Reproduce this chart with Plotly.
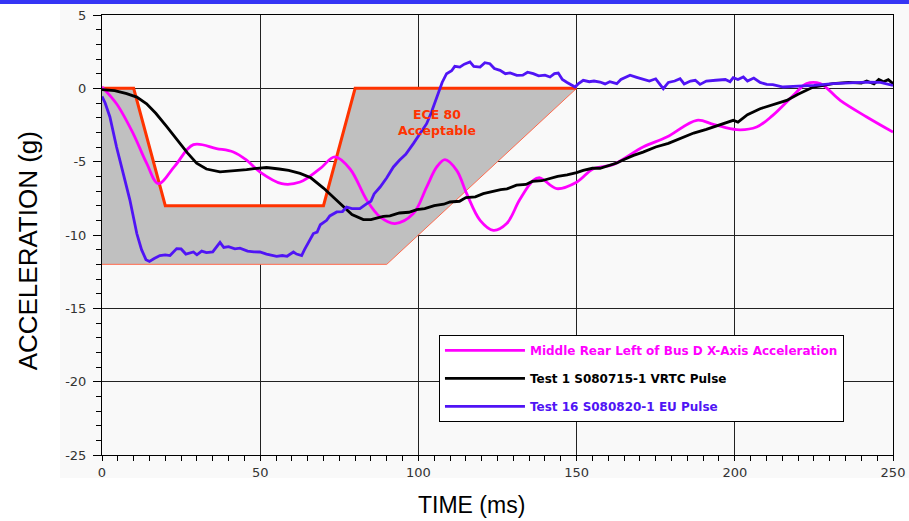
import plotly.graph_objects as go

# ---------------- data ----------------
corridor_upper_t = [0, 10, 20, 70, 80, 150]
corridor_upper_g = [0, 0, -8, -8, 0, 0]
corridor_lower_t = [0, 90, 150]
corridor_lower_g = [-12, -12, 0]

bus_t = [0, 4.6, 9.9, 14.1, 17.8, 23, 28.9, 36.2, 41.5, 45.7, 49.9, 56.8, 62.6, 68.9, 73.6,
         78.4, 83.7, 87.9, 92.6, 98.4, 102.6, 105.8, 108.4, 112.1, 115.3, 119.5, 123.7, 127.9,
         132, 136.3, 138.4, 143.7, 150, 155.3, 161.5, 171, 178.5, 188, 193.2, 200.6, 206.9,
         212, 218.5, 222.7, 227, 233.3, 241.7, 250]
bus_g = [0.1, -1.05, -3.1, -5.1, -6.5, -5.3, -3.84, -4.11, -4.34, -4.9, -5.7, -6.5, -6.39, -5.48, -4.68,
         -5.5, -7.63, -8.77, -9.22, -8.54, -6.73, -5.36, -4.86, -5.59, -7.2, -9.0, -9.68, -9.22,
         -7.6, -6.27, -6.1, -6.84, -6.4, -5.48, -5.2, -4.0, -3.32, -2.18, -2.45, -2.82, -2.64,
         -1.84, -0.48, 0.32, 0.32, -0.82, -1.95, -2.98]

vrtc_t = [0, 4, 7.8, 11, 14.1, 17, 20.4, 24.7, 27, 29.9, 33, 37.3, 41, 45.7, 49, 52, 56, 59, 62.6,
          66, 70, 73, 76.3, 79, 82.6, 85, 88.9, 91, 94, 97, 99.5, 102, 105, 108, 110, 113, 115,
          118, 120.5, 123, 126, 128, 131, 134, 136, 139, 141.6, 144, 147, 150, 152.1, 155, 157.4,
          160, 162.7, 165, 168, 171, 175, 179, 183.7, 187, 191, 195, 199.5, 201, 204, 208, 212,
          216.4, 220, 224.8, 228, 231, 236, 240, 241.7, 244, 245.5, 247, 248.5, 250]
vrtc_g = [-0.09, -0.15, -0.36, -0.6, -1.05, -1.7, -2.6, -3.77, -4.4, -5.1, -5.5, -5.7, -5.65, -5.55,
          -5.45, -5.4, -5.5, -5.6, -5.8, -6.1, -6.8, -7.4, -8.09, -8.6, -8.95, -8.95, -8.73, -8.7,
          -8.5, -8.45, -8.27, -8.2, -8.0, -7.9, -7.75, -7.7, -7.45, -7.4, -7.18, -7.05, -6.9, -6.85,
          -6.6, -6.55, -6.35, -6.3, -6.16, -6.0, -5.9, -5.75, -5.59, -5.45, -5.45, -5.25, -5.09,
          -4.85, -4.57, -4.35, -4.0, -3.75, -3.32, -3.05, -2.8, -2.5, -2.18, -2.3, -1.8, -1.39,
          -1.1, -0.82, -0.4, 0.09, 0.2, 0.32, 0.4, 0.35, 0.5, 0.3, 0.6, 0.45, 0.59, 0.32]

eu_t = [0, 1, 2.5, 4.6, 6.7, 8.8, 11, 12.5, 13.9, 15, 16.5, 18.3, 20, 21.5, 23.6, 25, 26.5, 28.9,
        30, 31.5, 33, 35, 37.3, 38.5, 40, 42, 43.6, 46, 48, 49.9, 52, 55.2, 57, 58.5, 60.5, 61.5,
        63.1, 64, 66.8, 68, 69, 71, 72, 74.2, 76, 77.3, 79, 81.5, 83.7, 85, 86, 87.9, 90, 92.1,
        94, 96, 98.4, 100.5, 102.6, 104, 105.8, 107.5, 108.9, 110.5, 111.5, 113.1, 114.5, 116.3,
        117.5, 119.5, 121, 122.6, 124, 125.8, 127.5, 129, 131.1, 133, 134.5, 136.3, 138, 140,
        141.6, 143, 144.2, 145.5, 147, 149.5, 150.5, 152.1, 154, 155.5, 157.4, 159, 160.5, 162.7,
        164, 166.9, 169, 171, 173, 175, 177.4, 179, 181, 182.7, 184, 186, 187.5, 189, 191, 194,
        197, 198.5, 199.5, 201, 202.7, 204, 206, 208, 210.1, 212, 215.3, 220, 225, 231.1, 236,
        241.7, 246, 250]
eu_g = [-0.55, -1.0, -1.95, -4.0, -5.8, -7.6, -9.9, -11.0, -11.68, -11.8, -11.6, -11.4, -11.35,
        -11.4, -10.93, -10.95, -11.3, -11.16, -11.35, -11.1, -11.2, -11.15, -10.5, -10.85, -10.8,
        -10.95, -10.9, -11.1, -11.15, -11.16, -11.3, -11.45, -11.4, -11.45, -11.16, -11.3, -11.4,
        -11.0, -9.9, -9.8, -9.3, -9.0, -8.7, -8.43, -8.4, -8.09, -8.2, -8.2, -7.86, -7.7, -7.2,
        -6.73, -6.1, -5.36, -4.9, -4.5, -3.77, -3.1, -2.41, -1.7, -0.59, 0.4, 1.0, 1.2, 1.5, 1.45,
        1.65, 1.8, 1.5, 1.45, 1.75, 1.68, 1.35, 1.23, 1.0, 1.05, 0.89, 0.9, 1.1, 1.0, 0.85, 0.9,
        0.77, 1.0, 1.04, 0.6, 0.4, 0.09, 0.3, 0.55, 0.45, 0.5, 0.43, 0.3, 0.45, 0.32, 0.6, 0.89,
        0.75, 0.6, 0.5, 0.65, -0.02, 0.4, 0.5, 0.66, 0.3, 0.5, 0.55, 0.27, 0.5, 0.55, 0.6, 0.45,
        0.73, 0.6, 0.77, 0.5, 0.7, 0.4, 0.27, 0.25, 0.09, 0.15, 0.2, 0.32, 0.35, 0.43, 0.4, 0.2]

series_names = ["Middle Rear Left of Bus D X-Axis Acceleration",
                "Test 1 S080715-1 VRTC Pulse",
                "Test 16 S080820-1 EU Pulse"]
series_colors = ["#FF00FF", "#000000", "#5014F5"]

x_ticks = [0, 50, 100, 150, 200, 250]
y_ticks = [5, 0, -5, -10, -15, -20, -25]
y_tick_labels = ["5", "0", "-5", "-10", "-15", "-20", "-25"]

FONT = "Liberation Sans, Arial, sans-serif"
WIDE = "DejaVu Sans, Verdana, sans-serif"

fig = go.Figure()

# corridor polygon (gray)
poly_t = corridor_upper_t + corridor_lower_t[::-1]
poly_g = corridor_upper_g + corridor_lower_g[::-1]
fig.add_trace(go.Scatter(x=poly_t, y=poly_g, fill="toself", fillcolor="#C0C0C0",
                         line=dict(width=0), mode="lines", showlegend=False, hoverinfo="skip"))
fig.add_trace(go.Scatter(x=corridor_lower_t, y=corridor_lower_g, mode="lines",
                         line=dict(color="#FF6A4D", width=1), showlegend=False))
fig.add_trace(go.Scatter(x=corridor_upper_t, y=corridor_upper_g, mode="lines",
                         line=dict(color="#FF3300", width=3), showlegend=False))

for name, t, g, c, shape in zip(series_names, [bus_t, vrtc_t, eu_t], [bus_g, vrtc_g, eu_g],
                                series_colors, ["spline", "linear", "linear"]):
    fig.add_trace(go.Scatter(
        x=t, y=g, mode="lines", line=dict(color=c, width=2.8, shape=shape),
        name=f'<b><span style="color:{c}">{name}</span></b>', legendgroup=name))

fig.add_annotation(x=106, y=-2.3, xref="x", yref="y", text="<b>ECE 80<br>Acceptable</b>",
                   showarrow=False, font=dict(family=WIDE, size=12.5, color="#FF3300"))

fig.add_annotation(x=-0.0936, y=0.465, xref="paper", yref="paper", xanchor="center", yanchor="middle",
                   text="ACCELERATION (g)", textangle=-90, showarrow=False,
                   font=dict(family="Liberation Sans Narrow, Arial Narrow, Liberation Sans", size=26,
                             color="#000"))
fig.add_annotation(x=0.4665, y=-0.1136, xref="paper", yref="paper", xanchor="center", yanchor="middle",
                   text="TIME (ms)", showarrow=False, font=dict(family=FONT, size=23, color="#000"))

# background panel and top bar (kept within the figure bounds)
fig.add_shape(type="rect", xref="paper", yref="paper", x0=-0.0531, x1=1.0202, y0=-0.0523, y1=1.025,
              fillcolor="#F9F9F9", line=dict(width=0), layer="below")
fig.add_shape(type="rect", xref="paper", yref="paper", x0=-0.129, x1=1.0202, y0=1.025, y1=1.034,
              fillcolor="#3535F5", line=dict(width=0), layer="below")

axis_common = dict(showline=True, linecolor="#000", linewidth=1, mirror=True,
                   gridcolor="#222", gridwidth=1, zeroline=False, automargin=False,
                   tickfont=dict(family=WIDE, size=13, color="#333"))

fig.update_layout(
    width=909, height=521, autosize=False,
    margin=dict(l=102, r=16, t=15, b=66, autoexpand=False),
    paper_bgcolor="#FFFFFF", plot_bgcolor="#F9F9F9",
    showlegend=True,
    legend=dict(x=0.426, y=0.273, xanchor="left", yanchor="top", bgcolor="#FFFFFF",
                bordercolor="#000", borderwidth=1, tracegroupgap=9, itemwidth=80,
                font=dict(family=WIDE, size=12, color="#000")),
    xaxis=dict(range=[0, 250], tickvals=x_ticks, ticks="outside", ticklen=5, tickcolor="#000",
               minor=dict(dtick=5, ticks="outside", ticklen=5, tickcolor="#000", showgrid=False),
               **axis_common),
    yaxis=dict(range=[-25, 5], tickvals=y_ticks, ticktext=y_tick_labels, ticks="outside", ticklen=8,
               tickcolor="#000",
               minor=dict(dtick=1, ticks="outside", ticklen=5, tickcolor="#000", showgrid=False),
               ticklabelstandoff=4, **axis_common),
    xaxis2=dict(overlaying="x", range=[0, 250], dtick=5, ticks="inside", ticklen=5, tickcolor="#000",
                showticklabels=False, showgrid=False, showline=False, zeroline=False, anchor="y"),
    yaxis2=dict(overlaying="y", range=[-25, 5], dtick=1, ticks="inside", ticklen=5, tickcolor="#000",
                showticklabels=False, showgrid=False, showline=False, zeroline=False, anchor="x"),
)

fig.write_html("out.html", config={"displayModeBar": False},
               post_script="document.body.style.margin='0';document.body.style.overflow='hidden';")
